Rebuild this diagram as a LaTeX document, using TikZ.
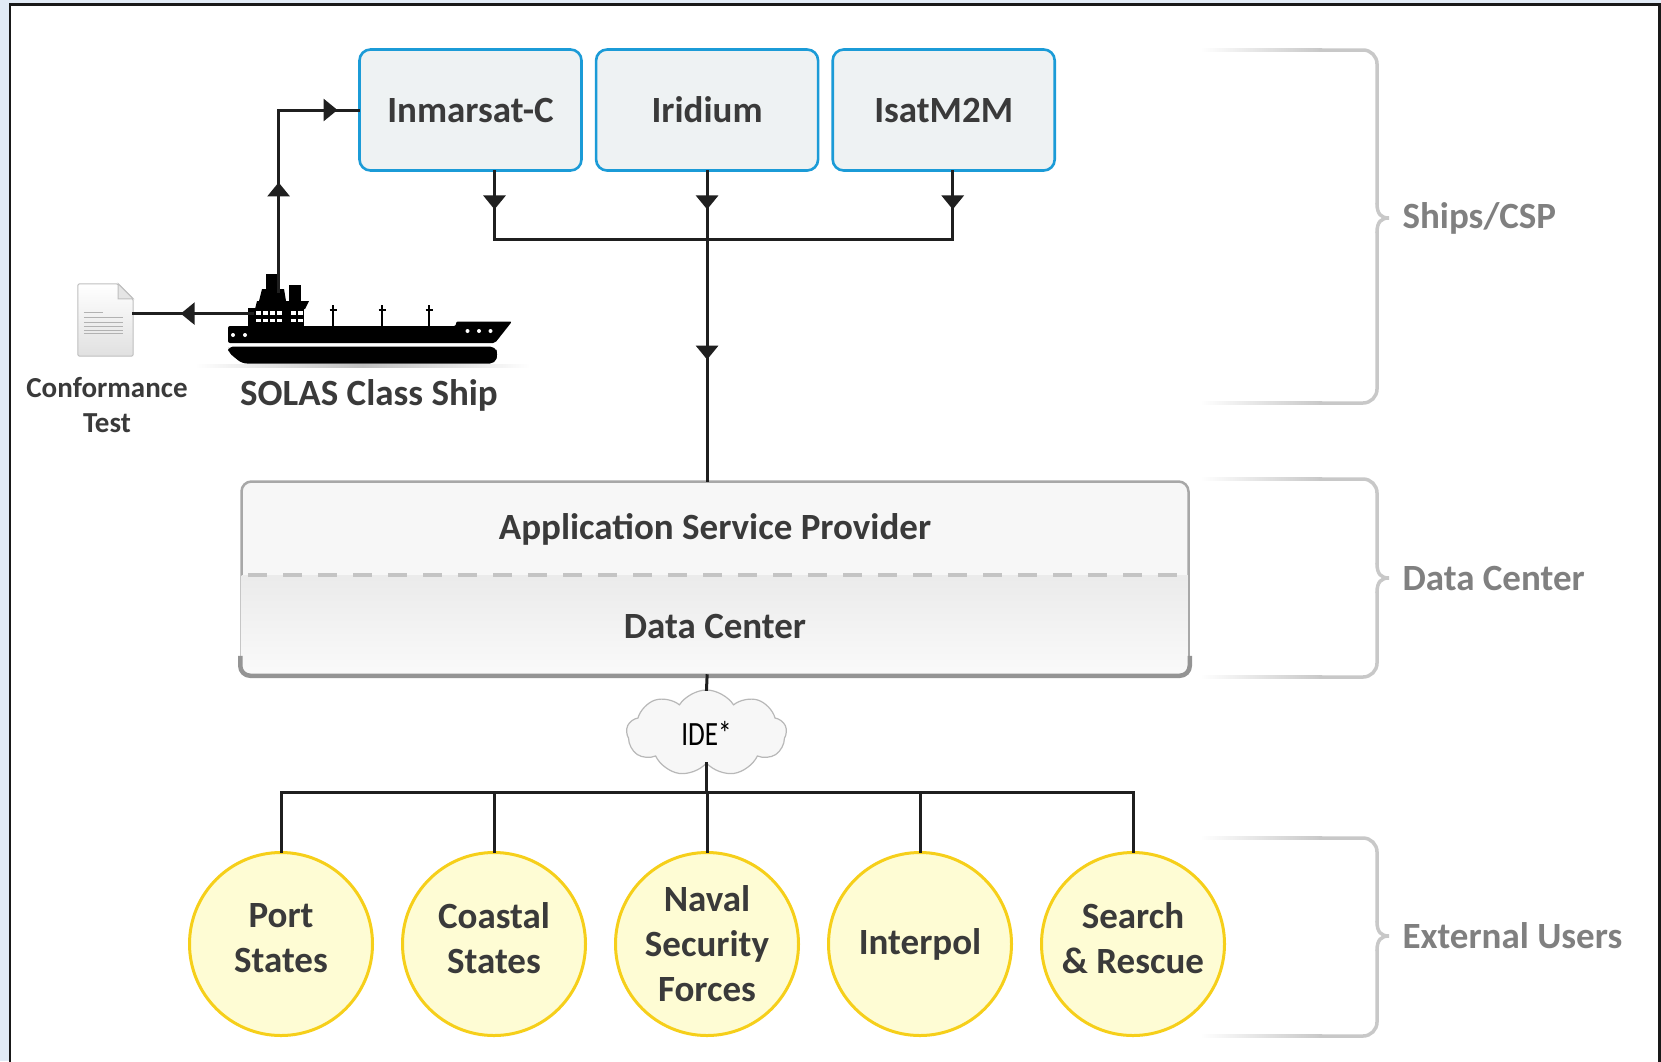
\documentclass[tikz,border=0pt]{standalone}
\usepackage{fontspec}
\setmainfont{Carlito}
\usetikzlibrary{positioning,calc,arrows.meta,shapes.symbols,decorations.markings}

\definecolor{bgblue}{HTML}{E2EBF6}
\definecolor{satblue}{HTML}{1B9BD7}
\definecolor{satfill}{HTML}{EEF2F3}
\definecolor{txtgray}{HTML}{3A3A3A}
\definecolor{userfill}{HTML}{FEFCD4}
\definecolor{userline}{HTML}{F6CF1A}
\definecolor{aspline}{HTML}{A8A8A8}
\definecolor{dashgray}{HTML}{C4C4C4}
\definecolor{bracegray}{HTML}{C8C8C8}
\definecolor{grptxt}{HTML}{808080}

\newcommand{\dgmfont}{\fontsize{37}{45}\selectfont\bfseries}
\newcommand{\dgmsmall}{\fontsize{29}{35}\selectfont\bfseries}

\tikzset{
  tri/.tip={Triangle[length=14pt,width=22pt]},
  link/.style={draw=black!88, line width=3pt, line cap=rect},
  midarr/.style={postaction={decorate},
    decoration={markings, mark=at position #1 with {\arrow{tri}}}},
  sat/.style={rectangle, rounded corners=11pt, draw=satblue, line width=2.6pt,
    fill=satfill, minimum width=222pt, minimum height=121pt,
    text=txtgray, font=\dgmfont},
  user/.style={circle, draw=userline, line width=3pt, fill=userfill,
    minimum size=183pt, inner sep=0pt},
  usertxt/.style={align=center, text=txtgray, font=\dgmfont},
  asp/.style={rectangle, rounded corners=10pt, draw=aspline, line width=2.5pt,
    fill=black!3, minimum width=947pt, minimum height=193pt},
  lbl/.style={text=txtgray, font=\dgmfont},
  grplbl/.style={anchor=west, text=grptxt, font=\dgmfont},
  grpline/.style={draw=bracegray, line width=3.5pt, rounded corners=14pt, line cap=round},
}

\begin{document}
\begin{tikzpicture}[x=1pt,y=-1pt]
\useasboundingbox (0,0) rectangle (1661,1061);
% slide background and frame
\fill[bgblue] (0,0) rectangle (1661,1061);
\draw[line width=2.5pt, draw=black!90, fill=white] (10,4.5) rectangle (1659.5,1080);

% satellite services
\node[sat] (inm) at (470.5,110) {Inmarsat-C};
\node[sat, right=12pt of inm] (iri) {Iridium};
\node[sat, right=12pt of iri] (isat) {IsatM2M};

% application service provider / data center
\node[asp] (asp) at (715,578) {};
\begin{scope}
  \clip[rounded corners=9pt] ($(asp.north west)+(1.3,1.3)$) rectangle ($(asp.south east)+(-1.3,-1.3)$);
  \shade[top color=black!8, bottom color=black!2] (asp.west |- 0,575) rectangle (asp.south east);
\end{scope}
\draw[dashgray, line width=4pt, dash pattern=on 19pt off 16pt]
  ($(asp.west |- 0,575)+(8,0)$) -- ($(asp.east |- 0,575)+(-8,0)$);
\draw[black!42, line width=4.5pt, rounded corners=10pt]
  ([yshift=20pt]asp.south west) -- (asp.south west) -- (asp.south east) -- ([yshift=20pt]asp.south east);
\node[lbl] (asptxt) at (715,529) {Application Service Provider};
\node[lbl] (dctxt) at (715,626) {Data Center};

% IDE cloud
\node[cloud, cloud puffs=9, cloud puff arc=115, aspect=1.9, draw=black!28, line width=1.2pt, fill=black!3,
  minimum width=160pt, minimum height=86pt, inner sep=0pt] (ide) at (706.5,733)
  {\fontsize{34}{40}\selectfont\scalebox{0.8}[1]{IDE*}};

% external users
\node[user] (port) at (281,944) {};
\node[user, right=27pt of port] (coast) {};
\node[user, right=27pt of coast] (naval) {};
\node[user, right=27pt of naval] (interpol) {};
\node[user, right=27pt of interpol] (sar) {};
\node[usertxt] (porttxt) at ([yshift=6pt]port.center) {Port\\States};
\node[usertxt] (coasttxt) at ([yshift=6pt]coast.center) {Coastal\\States};
\node[usertxt] (navaltxt) at (naval.center) {Naval\\Security\\Forces};
\node[usertxt] (interpoltxt) at (interpol.center) {Interpol};
\node[usertxt] (sartxt) at ([yshift=6pt]sar.center) {Search\\\& Rescue};

% ship
\fill[black, rounded corners=2pt] (228,326) -- (456,326) -- (456,321.5) -- (512,321.5)
  -- (495,343) -- (228,343) -- cycle;
\fill[black, rounded corners=5pt] (228,346.5) -- (495,346.5) -- (498,354) -- (495,363.5)
  -- (242,363.5) -- (228,352) -- cycle;
\fill[black] (248,308) rectangle (304,327);
\fill[black] (257,301) -- (309,301) -- (305,309) -- (255,309) -- cycle;
\fill[black] (262,289) -- (284,289) -- (286,301) -- (259,301) -- cycle;
\fill[black] (266,274) rectangle (277,289);
\fill[black] (289,285) rectangle (301,301);
\foreach \x in {256,263,270,277,291,298} {
  \fill[white] (\x,311) rectangle +(4.5,3.5);
  \fill[white] (\x,318.5) rectangle +(4.5,3.5);
}
\foreach \x in {333,382,429} {
  \draw[line width=2pt] (\x,305) -- (\x,327);
  \draw[line width=1.5pt] (\x-3.5,310) -- (\x+3.5,310);
}
\foreach \x/\y in {233/335, 245/335, 467.5/331, 479/331, 490.5/331}
  \fill[white] (\x,\y) circle (2pt);
\shade[left color=white, right color=white, middle color=black!25] (195,364.5) rectangle (530,367);
\coordinate (shiptop) at (278.6,291);
\coordinate (shipleft) at (252,313.6);
\node[lbl] (shiplbl) at (369,395) {SOLAS Class Ship};

% conformance test document
\node[minimum width=55pt, minimum height=72pt, inner sep=0pt] (doc) at (105.5,320) {};
\shade[top color=white, bottom color=black!12, draw=black!25, line width=1pt, rounded corners=2pt]
  (doc.north west) -- ([xshift=-15pt]doc.north east) -- ([yshift=-15pt]doc.north east)
  -- (doc.south east) -- (doc.south west) -- cycle;
\filldraw[fill=black!10, draw=black!25, line width=1pt]
  ([xshift=-15pt]doc.north east) -- ([xshift=-15pt,yshift=-15pt]doc.north east)
  -- ([yshift=-15pt]doc.north east) -- cycle;
\foreach \yy/\len in {29/19, 34/39, 39/39, 43/39, 47/39, 50/39}
  \draw[black!30, line width=1pt] ($(doc.north west)+(6,\yy)$) -- +(\len,0);
\node[lbl, font=\dgmsmall, align=center] (doclbl) at (107,405) {Conformance\\Test};

% connectors
\coordinate (bus) at (707,239);
\coordinate (trunk) at (iri.south |- bus);
\coordinate (busB) at (706.5,792);
\draw[link, midarr=.6] (shiptop) -- (shiptop |- inm.west);
\draw[link, midarr=.74] (shiptop |- inm.west) -- (inm.west);
\draw[link, midarr=.6] (shipleft) -- (doc.east |- shipleft);
\draw[link, midarr=.56] ([xshift=24pt]inm.south) -- ([xshift=24pt]inm.south |- bus);
\draw[link, midarr=.56] (iri.south) -- (trunk);
\draw[link, midarr=.56] ([xshift=9pt]isat.south) -- ([xshift=9pt]isat.south |- bus);
\draw[link] ([xshift=24pt]inm.south |- bus) -- ([xshift=9pt]isat.south |- bus);
\draw[link, midarr=.5] (trunk) -- (trunk |- asp.north);
\draw[link] (trunk |- asp.south) -- (ide.north);
\draw[link] (ide.south) -- (ide.south |- busB);
\draw[link] (port.north |- busB) -- (sar.north |- busB);
\foreach \u in {port,coast,naval,interpol,sar}
  \draw[link] (\u.north |- busB) -- (\u.north);

% group braces
\foreach \ya/\ym/\yb/\lab [count=\i] in {50/218/403/{Ships/CSP}, 479/578/677/{Data Center}, 838/936/1036/{External Users}} {
  \shade[left color=white, right color=bracegray] (1200,\ya-1.75) rectangle (1322,\ya+1.75);
  \shade[left color=white, right color=bracegray] (1200,\yb-1.75) rectangle (1322,\yb+1.75);
  \draw[grpline] (1320,\ya) -- (1377,\ya) -- (1377,\ym-14);
  \draw[grpline] (1320,\yb) -- (1377,\yb) -- (1377,\ym+14);
  \draw[grpline, sharp corners] (1377,\ym-14.5) .. controls (1377,\ym-4) and (1381,\ym) .. (1389,\ym)
    .. controls (1381,\ym) and (1377,\ym+4) .. (1377,\ym+14.5);
  \node[grplbl] (grp\i) at (1399,\ym) {\lab};
}
\end{tikzpicture}
\end{document}
